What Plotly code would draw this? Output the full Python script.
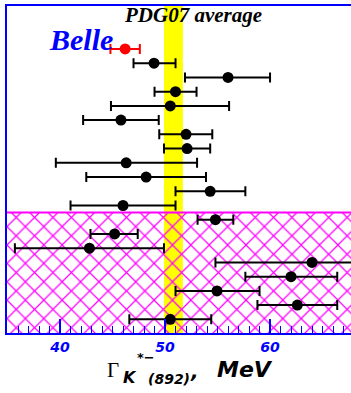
import plotly.graph_objects as go

# ---------------- data ----------------
rows = list(range(20))
values = [46.2, 48.95, 56.0, 51.0, 50.5, 45.8, 52.0, 52.1, 46.3, 48.2,
          54.3, 46.0, 54.8, 45.2, 42.8, 64.0, 62.0, 54.95, 62.6, 50.5]
err_lo = [1.4, 1.95, 4.1, 2.0, 5.65, 3.6, 2.55, 2.2, 6.7, 5.7,
          3.3, 5.0, 1.7, 2.3, 7.1, 9.2, 4.35, 3.95, 3.8, 3.9]
err_hi = [1.4, 2.05, 4.0, 2.0, 5.6, 3.6, 2.5, 2.2, 6.75, 5.7,
          3.35, 5.0, 1.7, 2.2, 7.1, 9.2, 4.4, 4.05, 3.8, 3.9]
pdg_avg = 50.8
pdg_err = 0.9
hatch_from = 11.5
tick_vals = [40, 50, 60]
tick_text = ["40", "50", "60"]

# ---------------- layout geometry ----------------
W, H = 351, 393
L, R, T, B = 7, 0, 6, 60
X0, X1, Y0, Y1 = L, W - R, T, H - B


def px(x):
    return (x - X0) / (X1 - X0)


def py(y):
    return (Y1 - y) / (Y1 - Y0)


fig = go.Figure()

# hatched region
fig.add_trace(go.Scatter(
    x=[30, 75, 75, 30, 30], y=[hatch_from, hatch_from, 25, 25, hatch_from],
    mode="lines", fill="toself", line=dict(color="#ff00ff", width=2),
    fillcolor="rgba(0,0,0,0)",
    fillpattern=dict(shape="x", size=13, solidity=0.18, fgcolor="#ff00ff",
                     bgcolor="rgba(0,0,0,0)", fillmode="replace"),
    hoverinfo="skip", showlegend=False))

# black measurements
fig.add_trace(go.Scatter(
    x=values[1:], y=rows[1:], mode="markers",
    marker=dict(color="black", size=11),
    error_x=dict(type="data", symmetric=False, array=err_hi[1:], arrayminus=err_lo[1:],
                 color="black", thickness=2, width=5),
    showlegend=False))

# Belle measurement
fig.add_trace(go.Scatter(
    x=values[:1], y=rows[:1], mode="markers",
    marker=dict(color="red", size=11),
    error_x=dict(type="data", symmetric=False, array=err_hi[:1], arrayminus=err_lo[:1],
                 color="red", thickness=2, width=5),
    showlegend=False))

# PDG band
fig.add_shape(type="rect", xref="x", yref="paper", x0=pdg_avg - pdg_err, x1=pdg_avg + pdg_err,
              y0=0, y1=1, fillcolor="#ffff00", line=dict(width=0), layer="below")

sans = "DejaVu Sans"
serif = "Liberation Serif"


def ann(text, x, y, family, size, color="black", bold=True, italic=True, xanchor="center"):
    fig.add_annotation(text=text, xref="paper", yref="paper", x=px(x), y=py(y),
                       xanchor=xanchor, yanchor="middle", showarrow=False,
                       font=dict(family=family, size=size, color=color,
                                 weight="bold" if bold else "normal",
                                 style="italic" if italic else "normal"))


ann("PDG07 average", 192.5, 15, serif, 21)
ann("Belle", 81, 40, serif, 30, color="#0000ff")
ann("Γ", 113, 370, serif, 21, bold=False, italic=False)
ann("K", 130, 377, sans, 16)
ann("*−", 146, 358, sans, 13)
ann("(892)", 169, 379, sans, 14)
ann(",", 194, 371, sans, 20)
ann("MeV", 244.5, 369.5, sans, 22)

fig.update_layout(
    width=W, height=H,
    margin=dict(l=L, r=R, t=T, b=B, pad=0),
    paper_bgcolor="white", plot_bgcolor="white",
    xaxis=dict(range=[34.95, 67.71], showgrid=False, zeroline=False,
               showline=True, linecolor="#0000ff", linewidth=2, mirror=True,
               ticks="inside", tickcolor="#0000ff", ticklen=14, tickwidth=1.5,
               tickvals=tick_vals, ticktext=tick_text,
               minor=dict(dtick=1, tick0=0, ticks="inside", ticklen=7,
                          tickcolor="#0000ff", tickwidth=1.2),
               tickfont=dict(family=sans, size=14, color="#0000ff",
                             weight="bold", style="italic")),
    yaxis=dict(range=[19.96, -3.02], showgrid=False, zeroline=False,
               showline=True, linecolor="#0000ff", linewidth=1.5, mirror=False,
               showticklabels=False, ticks=""),
)

fig.write_html("out.html", config={"displayModeBar": False},
               post_script="document.body.style.margin='0px';document.body.style.overflow='hidden';")
